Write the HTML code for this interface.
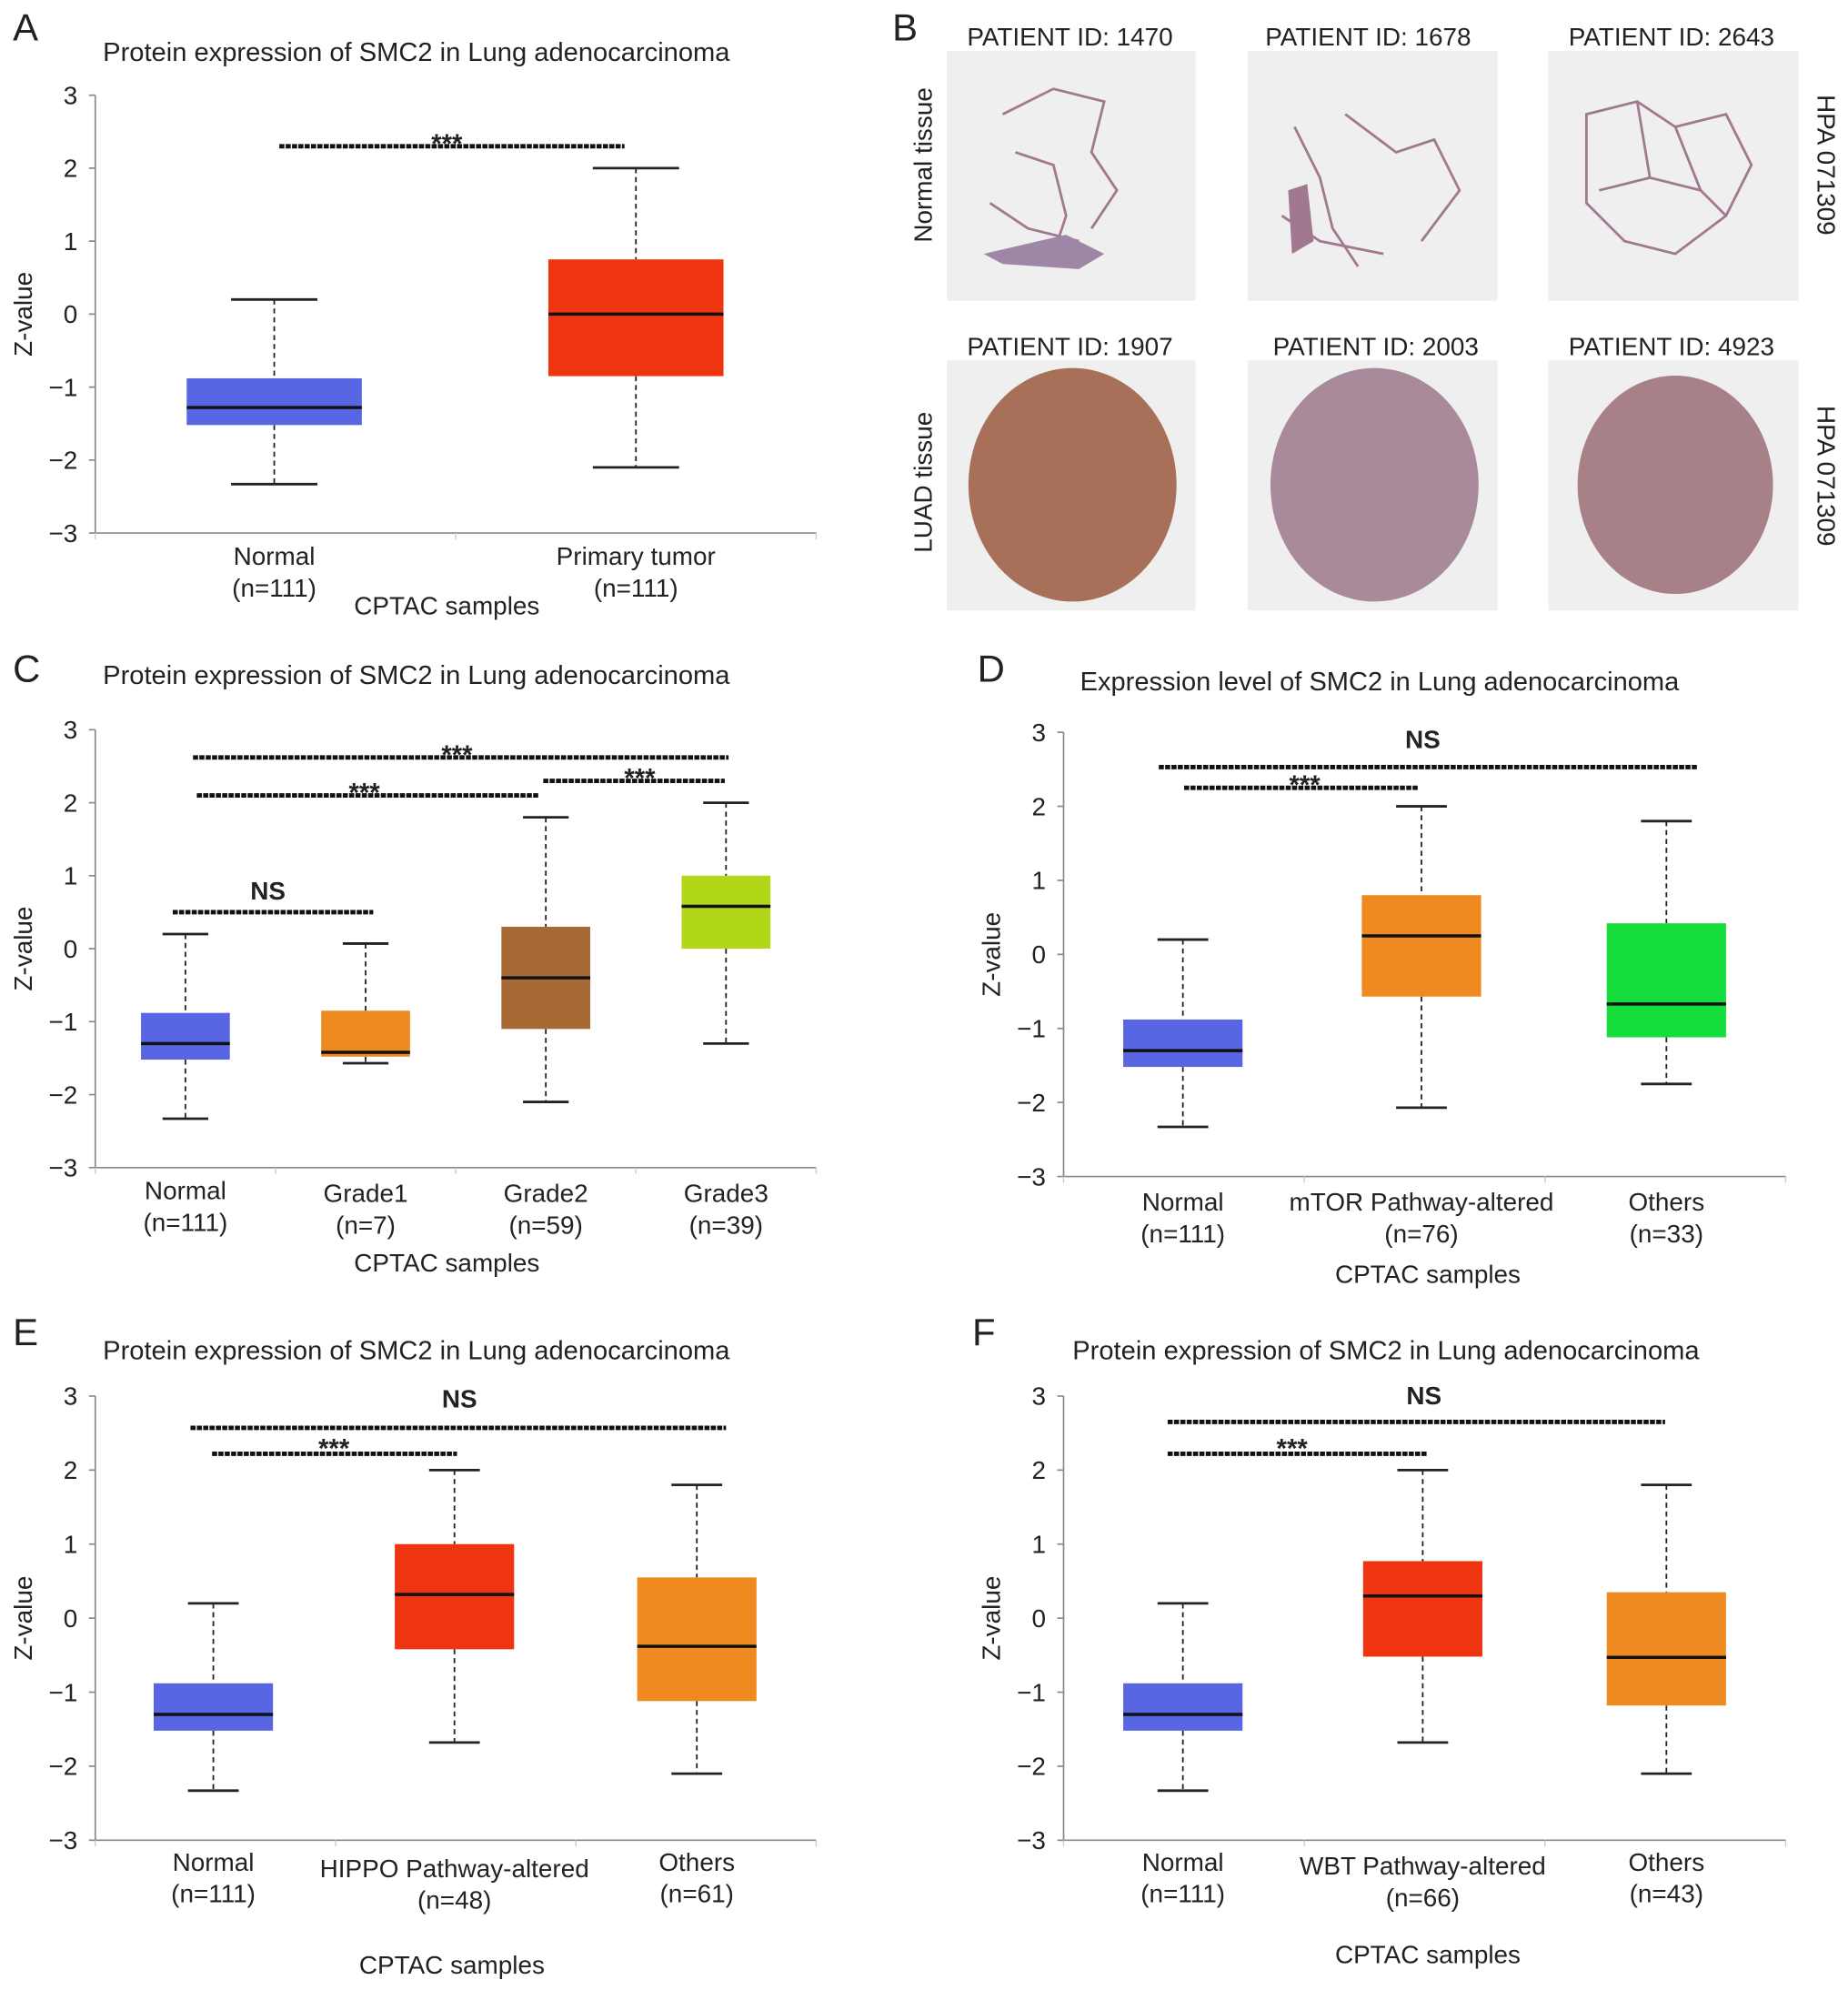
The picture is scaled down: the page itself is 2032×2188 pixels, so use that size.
<!DOCTYPE html>
<html><head><meta charset="utf-8"><style>
html,body{margin:0;padding:0;background:#fff}
svg{display:block}
text{font-family:"Liberation Sans",Arial,sans-serif;fill:#222}
</style></head><body>
<svg id="fig" width="2032" height="2188" viewBox="0 0 1456 1568" xmlns="http://www.w3.org/2000/svg">
<rect width="1456" height="1568" fill="#fff"/>
<g id="panelB">
 <text x="703" y="32" font-size="30">B</text>
 <rect x="746" y="40" width="196" height="197" fill="#efefef"/>
 <rect x="983" y="40" width="197" height="197" fill="#efefef"/>
 <rect x="1220" y="40" width="197" height="197" fill="#efefef"/>
 <rect x="746" y="284" width="196" height="197" fill="#efefef"/>
 <rect x="983" y="284" width="197" height="197" fill="#efefef"/>
 <rect x="1220" y="284" width="197" height="197" fill="#efefef"/>
 <g fill="none" stroke="#a07890" stroke-width="2">
  <path d="M790 90 L830 70 L870 80 L860 120 L880 150 L860 180 M800 120 L830 130 L840 170 L830 200 M780 160 L810 180 L850 190"/>
  <path d="M1020 100 L1040 140 L1050 180 L1070 210 M1060 90 L1100 120 L1130 110 L1150 150 L1120 190 M1010 170 L1040 190 L1090 200"/>
  <path d="M1250 90 L1290 80 L1320 100 L1360 90 L1380 130 L1360 170 L1320 200 L1280 190 L1250 160 Z M1290 80 L1300 140 L1340 150 L1360 170 M1300 140 L1260 150 M1320 100 L1340 150"/>
 </g>
 <path d="M775 200 L840 185 L870 200 L850 212 L790 208 Z" fill="#9d86a6"/>
 <path d="M1015 150 L1030 145 L1035 190 L1018 200 Z" fill="#a07890"/>
 <ellipse cx="845" cy="382" rx="82" ry="92" fill="#a87058"/>
 <ellipse cx="1083" cy="382" rx="82" ry="92" fill="#a88a9a"/>
 <ellipse cx="1320" cy="382" rx="77" ry="86" fill="#a88088"/>
 <text x="843" y="36" font-size="20" text-anchor="middle">PATIENT ID: 1470</text>
 <text x="1078" y="36" font-size="20" text-anchor="middle">PATIENT ID: 1678</text>
 <text x="1317" y="36" font-size="20" text-anchor="middle">PATIENT ID: 2643</text>
 <text x="843" y="280" font-size="20" text-anchor="middle">PATIENT ID: 1907</text>
 <text x="1084" y="280" font-size="20" text-anchor="middle">PATIENT ID: 2003</text>
 <text x="1317" y="280" font-size="20" text-anchor="middle">PATIENT ID: 4923</text>
 <text transform="translate(734,130) rotate(-90)" font-size="20" text-anchor="middle">Normal tissue</text>
 <text transform="translate(734,380) rotate(-90)" font-size="20" text-anchor="middle">LUAD tissue</text>
 <text transform="translate(1432,130) rotate(90)" font-size="20" text-anchor="middle">HPA 071309</text>
 <text transform="translate(1432,375) rotate(90)" font-size="20" text-anchor="middle">HPA 071309</text>
</g>
</svg>
<script>
// ---- data ----
const aCategories = ["Normal","Primary tumor"];
const aCounts = ["(n=111)","(n=111)"];
const aQ1 = [-1.52,-0.85], aQ3 = [-0.88,0.75], aMed = [-1.28,0], aLo = [-2.33,-2.1], aHi = [0.2,2.0];
const cCategories = ["Normal","Grade1","Grade2","Grade3"];
const cCounts = ["(n=111)","(n=7)","(n=59)","(n=39)"];
const cQ1 = [-1.52,-1.48,-1.1,0], cQ3 = [-0.88,-0.85,0.3,1.0], cMed = [-1.3,-1.42,-0.4,0.58], cLo = [-2.33,-1.57,-2.1,-1.3], cHi = [0.2,0.07,1.8,2.0];
const dCategories = ["Normal","mTOR Pathway-altered","Others"];
const dCounts = ["(n=111)","(n=76)","(n=33)"];
const dQ1 = [-1.52,-0.57,-1.12], dQ3 = [-0.88,0.8,0.42], dMed = [-1.3,0.25,-0.67], dLo = [-2.33,-2.07,-1.75], dHi = [0.2,2.0,1.8];
const eCategories = ["Normal","HIPPO Pathway-altered","Others"];
const eCounts = ["(n=111)","(n=48)","(n=61)"];
const eQ1 = [-1.52,-0.42,-1.12], eQ3 = [-0.88,1.0,0.55], eMed = [-1.3,0.32,-0.38], eLo = [-2.33,-1.68,-2.1], eHi = [0.2,2.0,1.8];
const fCategories = ["Normal","WBT Pathway-altered","Others"];
const fCounts = ["(n=111)","(n=66)","(n=43)"];
const fQ1 = [-1.52,-0.52,-1.18], fQ3 = [-0.88,0.77,0.35], fMed = [-1.3,0.3,-0.53], fLo = [-2.33,-1.68,-2.1], fHi = [0.2,2.0,1.8];
const yTicks = [3,2,1,0,-1,-2,-3];
const yTickLabels = ["3","2","1","0","\u22121","\u22122","\u22123"];

const NS = "http://www.w3.org/2000/svg";
const svg = document.getElementById('fig');
function mk(tag, attrs, parent, txt){
  const e = document.createElementNS(NS, tag);
  for (const k in attrs) e.setAttribute(k, attrs[k]);
  if (txt !== undefined) e.textContent = txt;
  (parent || svg).appendChild(e);
  return e;
}
function panel(p){
  const g = mk('g', {});
  
  
  const y = v => p.y0 - (v - (-3)) / 6 * (p.y0 - p.y3);
  const n = p.cats.length;
  const step = (p.x1 - p.x0) / n;
  const x = i => p.centers ? p.centers[i] : p.x0 + step * (i + 0.5);
  const lt = mk('text', {x:p.lx, y:p.ly, 'font-size':30}, g, p.letter);
  
  
  const tt = mk('text', {x:p.tx, y:p.ty, 'font-size':20.5, 'text-anchor':'middle', textLength:p.tw, lengthAdjust:'spacingAndGlyphs'}, g, p.title);
  
  
  const ax = mk('g', {}, g);
  
  
  mk('line', {x1:p.x0, y1:y(3), x2:p.x0, y2:y(-3), stroke:'#888', 'stroke-width':1.2}, ax);
  yTicks.forEach((t, i) => {
    mk('line', {x1:p.x0-5, y1:y(t), x2:p.x0, y2:y(t), stroke:'#888', 'stroke-width':1.2}, ax);
    const tl = mk('text', {x:p.x0-14, y:y(t)+7, 'font-size':20, 'text-anchor':'end'}, ax, yTickLabels[i]);
    
    
  });
  const yl = mk('text', {transform:`translate(${p.x0-50},${y(0)}) rotate(-90)`, 'font-size':20, 'text-anchor':'middle'}, g, 'Z-value');
  
  
  const xa = mk('g', {}, g);
  
  
  mk('line', {x1:p.x0, y1:y(-3), x2:p.x1, y2:y(-3), stroke:'#888', 'stroke-width':1.2}, xa);
  for (let i = 0; i <= n; i++) mk('line', {x1:p.x0+step*i, y1:y(-3), x2:p.x0+step*i, y2:y(-3)+5, stroke:'#ccc'}, xa);
  p.cats.forEach((c, i) => {
    const cx = x(i);
    const b = mk('g', {}, g);
    
    
    const hw = p.bw / 2;
    mk('line', {x1:cx, y1:y(p.hi[i]), x2:cx, y2:y(p.q3[i]), stroke:'#222', 'stroke-width':1.3, 'stroke-dasharray':'4 3'}, b);
    mk('line', {x1:cx, y1:y(p.q1[i]), x2:cx, y2:y(p.lo[i]), stroke:'#222', 'stroke-width':1.3, 'stroke-dasharray':'4 3'}, b);
    mk('line', {x1:cx-p.cw, y1:y(p.hi[i]), x2:cx+p.cw, y2:y(p.hi[i]), stroke:'#222', 'stroke-width':2}, b);
    mk('line', {x1:cx-p.cw, y1:y(p.lo[i]), x2:cx+p.cw, y2:y(p.lo[i]), stroke:'#222', 'stroke-width':2}, b);
    mk('rect', {x:cx-hw, y:y(p.q3[i]), width:p.bw, height:y(p.q1[i])-y(p.q3[i]), fill:p.colors[i]}, b);
    mk('line', {x1:cx-hw, y1:y(p.med[i]), x2:cx+hw, y2:y(p.med[i]), stroke:'#111', 'stroke-width':2.5}, b);
    const ly = p.labY[i];
    const l1 = mk('text', {x:cx, y:ly, 'font-size':20, 'text-anchor':'middle'}, g, c);
    
    
    const l2 = mk('text', {x:cx, y:ly+25, 'font-size':20, 'text-anchor':'middle'}, g, p.counts[i]);
    
    
  });
  const xt = mk('text', {x:p.xtx, y:p.xty, 'font-size':20, 'text-anchor':'middle'}, g, 'CPTAC samples');
  
  
  p.sig.forEach(s => {
    const sg = mk('g', {}, g);
    
    
    mk('line', {x1:s[0], y1:y(s[2]), x2:s[1], y2:y(s[2]), stroke:'#111', 'stroke-width':3.5, 'stroke-dasharray':'4 1'}, sg);
    mk('text', {x:s[4], y:y(s[2])+s[5]+(s[3]==='***'?3:0), 'font-size':s[3]==='***'?21:20, 'font-weight':'bold', 'text-anchor':'middle'}, sg, s[3]);
  });
}
const blue = '#5866e4', red = '#ef3510', orange = '#ee8a20';
panel({letter:'A', lx:10, ly:32, title:'Protein expression of SMC2 in Lung adenocarcinoma', tx:328, ty:48, tw:494,
  x0:75, x1:643, y3:75, y0:420, centers:[216,501], bw:138, cw:34,
  cats:aCategories, counts:aCounts, q1:aQ1, q3:aQ3, med:aMed, lo:aLo, hi:aHi, colors:[blue,red],
  labY:[445,445], xtx:352, xty:484, sig:[[220,492,2.3,'***',352,2]]});
panel({letter:'C', lx:10, ly:537, title:'Protein expression of SMC2 in Lung adenocarcinoma', tx:328, ty:539, tw:494,
  x0:75, x1:643, y3:575, y0:920, centers:[146,288,430,572], bw:70, cw:18,
  cats:cCategories, counts:cCounts, q1:cQ1, q3:cQ3, med:cMed, lo:cLo, hi:cHi, colors:[blue,orange,'#a86a35','#b0d818'],
  labY:[945,947,947,947], xtx:352, xty:1002,
  sig:[[136,294,0.5,'NS',211,-10],[155,425,2.1,'***',287,2],[428,571,2.3,'***',504,2],[152,574,2.62,'***',360,2]]});
panel({letter:'D', lx:770, ly:537, title:'Expression level of SMC2 in Lung adenocarcinoma', tx:1087, ty:544, tw:472,
  x0:838, x1:1407, y3:577, y0:927, centers:[932,1120,1313], bw:94, cw:20,
  cats:dCategories, counts:dCounts, q1:dQ1, q3:dQ3, med:dMed, lo:dLo, hi:dHi, colors:[blue,orange,'#14dd3c'],
  labY:[954,954,954], xtx:1125, xty:1011,
  sig:[[933,1118,2.25,'***',1028,2],[913,1337,2.53,'NS',1121,-15]]});
panel({letter:'E', lx:10, ly:1060, title:'Protein expression of SMC2 in Lung adenocarcinoma', tx:328, ty:1071, tw:494,
  x0:75, x1:643, y3:1100, y0:1450, centers:[168,358,549], bw:94, cw:20,
  cats:eCategories, counts:eCounts, q1:eQ1, q3:eQ3, med:eMed, lo:eLo, hi:eHi, colors:[blue,red,orange],
  labY:[1474,1479,1474], xtx:356, xty:1555,
  sig:[[167,360,2.22,'***',263,0],[150,572,2.57,'NS',362,-16]]});
panel({letter:'F', lx:766, ly:1060, title:'Protein expression of SMC2 in Lung adenocarcinoma', tx:1092, ty:1071, tw:494,
  x0:838, x1:1407, y3:1100, y0:1450, centers:[932,1121,1313], bw:94, cw:20,
  cats:fCategories, counts:fCounts, q1:fQ1, q3:fQ3, med:fMed, lo:fLo, hi:fHi, colors:[blue,red,orange],
  labY:[1474,1477,1474], xtx:1125, xty:1547,
  sig:[[920,1124,2.22,'***',1018,0],[920,1312,2.65,'NS',1122,-14]]});
</script>
</body></html>
